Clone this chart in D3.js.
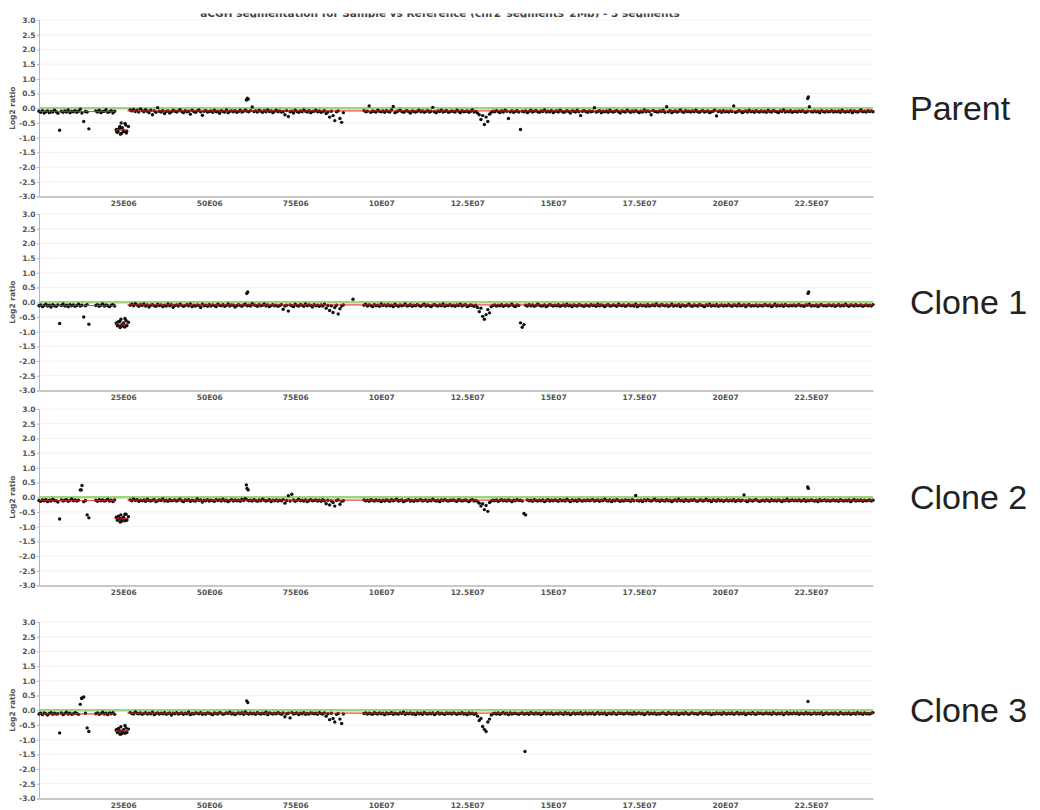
<!DOCTYPE html>
<html><head><meta charset="utf-8">
<script src="https://cdn.jsdelivr.net/npm/d3@7"></script>
<style>body{margin:0;background:#fff}svg{display:block}</style>
</head><body>
<script>
// ---------------- DATA ----------------
const panelNames = ["Parent", "Clone 1", "Clone 2", "Clone 3"];
const titleText = "aCGH segmentation for Sample vs Reference (chr2_segments_2Mb) - 3 segments";
// probe grid (Mb): first probe position and spacing
const probeStartMb = 0.5, probeStepMb = 0.5;

const parentLog2 = [
-.10,-.14,-.08,-.16,-.12,-.09,-.15,-.11,-.13,-.07,-.12,-.17,-.75,-.10,-.14,-.09,-.13,-.06,-.15,-.11,
-.12,-.08,-.14,-.10,-.03,-.16,-.45,-.11,-.13,-.70,null,null,null,-.09,-.13,-.07,-.15,-.11,-.10,-.05,
-.14,-.12,-.08,-.16,-.10,-.72,-.80,-.68,-.85,-.75,-.52,-.78,-.62,-.06,-.09,-.04,-.11,-.07,-.13,-.02,
-.08,-.12,-.05,-.10,-.15,-.07,-.22,-.09,-.14,.02,-.10,-.13,-.08,-.18,-.11,-.09,-.16,-.12,-.07,-.10,
-.13,-.09,-.05,-.11,-.15,-.08,-.12,-.10,-.20,-.07,-.11,-.14,-.09,-.06,-.12,-.24,-.10,-.08,-.13,-.11,
-.09,-.14,-.07,-.12,-.10,-.17,-.08,-.11,-.13,-.06,-.15,-.10,-.09,-.12,-.08,-.14,-.11,-.07,-.13,-.10,
-.06,-.10,-.12,-.08,.04,-.11,-.09,-.13,-.07,-.10,-.14,-.08,-.12,-.06,-.11,-.09,-.15,-.10,-.07,-.12,
-.09,-.13,-.11,-.22,-.08,-.28,-.12,-.10,-.16,-.07,-.11,-.14,-.09,-.12,-.06,-.10,-.13,-.08,-.15,-.11,
-.10,-.07,-.12,-.09,-.14,-.11,-.08,-.18,-.13,-.30,-.10,-.25,-.42,-.12,-.09,-.35,-.48,-.15,null,null,
null,null,null,null,null,null,null,null,null,-.08,-.12,-.10,.08,-.14,-.09,-.11,-.13,-.07,-.10,-.12,
-.09,-.14,-.08,-.11,-.13,-.06,.06,-.15,-.12,-.09,-.07,-.11,-.14,-.10,-.08,-.12,-.16,-.09,-.11,-.13,
-.10,-.07,-.12,-.09,-.14,-.11,-.08,-.13,-.10,.03,-.12,-.15,-.09,-.11,-.07,-.13,-.10,-.08,-.14,-.12,
-.09,-.11,-.13,-.07,-.10,-.15,-.08,-.12,-.11,-.09,-.14,-.10,-.06,-.13,-.11,-.16,-.22,-.38,-.25,-.55,
-.30,-.45,-.20,-.14,-.10,-.12,-.08,-.11,-.15,-.09,-.13,-.07,-.10,-.35,-.12,-.09,-.14,-.11,-.08,-.13,
-.72,-.10,-.12,-.09,-.15,-.11,-.07,-.13,-.10,-.08,-.12,-.14,-.09,-.11,-.06,-.13,-.10,-.12,-.08,-.15,
-.11,-.09,-.13,-.07,-.10,-.14,-.12,-.08,-.11,-.16,-.09,-.10,-.13,-.07,-.12,-.25,-.10,-.08,-.11,-.14,
-.09,-.12,-.10,.02,-.13,-.11,-.08,-.15,-.10,-.12,-.09,-.14,-.07,-.11,-.13,-.10,-.08,-.12,-.16,-.09,
-.11,-.13,-.07,-.10,-.14,-.09,-.12,-.08,-.11,-.15,-.10,-.13,-.06,-.12,-.09,-.11,-.22,-.08,-.10,-.12,
-.13,-.09,-.11,-.07,-.14,.05,-.12,-.08,-.15,-.11,-.09,-.13,-.10,-.06,-.12,-.14,-.08,-.11,-.10,-.13,
-.09,-.12,-.07,-.11,-.14,-.10,-.08,-.13,-.11,-.09,-.15,-.12,-.10,-.07,-.26,-.11,-.09,-.14,-.08,-.12,
-.10,-.13,-.09,-.11,.08,-.14,-.12,-.08,-.10,-.15,-.11,-.09,-.13,-.07,-.12,-.10,-.14,-.08,-.11,-.13,
-.09,-.12,-.10,-.14,-.07,-.11,-.13,-.08,-.10,-.12,-.15,-.09,-.11,-.06,-.13,-.10,-.12,-.08,-.14,-.11,
-.10,-.13,-.09,-.11,-.08,-.12,-.14,-.10,.05,-.11,-.13,-.09,-.12,-.10,-.15,-.08,-.11,-.13,-.09,-.12,
-.11,-.08,-.13,-.10,-.12,-.09,-.14,-.07,-.11,-.13,-.10,-.12,-.08,-.15,-.09,-.11,-.13,-.10,-.06,-.12,
-.10,-.13,-.08,-.11,-.09,-.12
];
const parentExtra = [
[23.0,-.76],[23.2,-.82],[23.7,-.70],[24.0,-.62],[24.2,-.88],[24.4,-.50],[24.7,-.66],[25.2,-.79],[25.7,-.57],[25.9,-.84],
[60.8,.28],[61.1,.34],[61.3,.31],[224.0,.33],[224.2,.38]
];
const parentSegments = [[0.5,22.8,-.11],[22.8,26.2,-.74],[26.2,243,-.09]];

const clone1Log2 = [
-.12,-.09,-.15,-.11,-.07,-.13,-.10,-.16,-.08,-.12,-.14,-.09,-.72,-.11,-.06,-.13,-.10,-.15,-.08,-.12,
-.09,-.14,-.11,-.07,-.13,-.10,-.50,-.12,-.08,-.75,null,null,null,-.11,-.08,-.14,-.10,-.06,-.13,-.09,
-.12,-.15,-.10,-.08,-.13,-.70,-.78,-.65,-.82,-.74,-.55,-.80,-.68,-.10,-.07,-.12,-.05,-.09,-.14,-.08,
-.11,-.06,-.13,-.09,-.16,-.10,-.08,-.12,-.14,-.07,-.11,-.09,-.15,-.10,-.13,-.06,-.12,-.08,-.17,-.11,
-.09,-.13,-.07,-.10,-.14,-.11,-.08,-.12,-.06,-.15,-.10,-.13,-.09,-.11,-.18,-.07,-.12,-.10,-.14,-.08,
-.13,-.09,-.11,-.15,-.07,-.10,-.12,-.08,-.14,-.11,-.06,-.13,-.09,-.10,-.16,-.12,-.08,-.11,-.14,-.09,
-.07,-.12,-.10,-.13,-.05,-.09,-.11,-.14,-.08,-.12,-.10,-.06,-.13,-.09,-.15,-.11,-.08,-.12,-.10,-.14,
-.11,-.08,-.24,-.13,-.10,-.30,-.09,-.12,-.15,-.07,-.11,-.13,-.08,-.10,-.14,-.06,-.12,-.09,-.11,-.16,
-.08,-.12,-.10,-.14,-.09,-.13,-.07,-.20,-.11,-.28,-.12,-.35,-.18,-.10,-.40,-.22,-.13,-.09,null,null,
null,null,null,null,null,null,null,null,null,-.10,-.07,-.13,-.09,-.11,-.15,-.08,-.12,-.10,-.14,-.06,
-.11,-.09,-.13,-.08,-.12,-.10,-.15,-.07,-.11,-.14,-.09,-.12,-.10,-.06,-.13,-.11,-.08,-.14,-.10,-.12,
-.08,-.11,-.14,-.10,-.07,-.13,-.09,-.12,-.15,-.10,-.08,-.11,-.13,-.09,-.12,-.06,-.14,-.10,-.11,-.08,
-.12,-.10,-.14,-.09,-.11,-.07,-.13,-.10,-.08,-.15,-.12,-.09,-.11,-.14,-.10,-.18,-.32,-.20,-.48,-.58,
-.42,-.25,-.36,-.15,-.11,-.09,-.13,-.10,-.12,-.08,-.14,-.11,-.09,-.13,-.10,-.07,-.12,-.15,-.09,-.11,
-.70,-.85,-.76,-.10,-.13,-.08,-.12,-.09,-.14,-.11,-.07,-.10,-.13,-.12,-.09,-.15,-.11,-.08,-.10,-.13,
-.10,-.12,-.08,-.14,-.11,-.09,-.13,-.07,-.12,-.10,-.15,-.09,-.11,-.13,-.08,-.10,-.12,-.14,-.09,-.11,
-.13,-.08,-.11,-.10,-.14,-.07,-.12,-.09,-.11,-.15,-.10,-.08,-.13,-.12,-.09,-.11,-.14,-.07,-.10,-.12,
-.09,-.14,-.11,-.08,-.12,-.10,-.13,-.07,-.15,-.11,-.09,-.12,-.10,-.14,-.08,-.13,-.11,-.09,-.12,-.06,
-.11,-.13,-.08,-.10,-.12,-.09,-.14,-.11,-.07,-.13,-.10,-.12,-.08,-.15,-.09,-.11,-.13,-.10,-.07,-.12,
-.14,-.09,-.11,-.13,-.08,-.10,-.12,-.15,-.09,-.11,-.07,-.13,-.10,-.12,-.08,-.14,-.11,-.09,-.13,-.10,
-.12,-.08,-.11,-.14,-.09,-.10,-.13,-.07,-.12,-.11,-.09,-.15,-.10,-.08,-.13,-.11,-.12,-.09,-.14,-.10,
-.11,-.13,-.08,-.10,-.12,-.09,-.15,-.11,-.07,-.13,-.10,-.12,-.09,-.14,-.08,-.11,-.13,-.10,-.12,-.09,
-.13,-.10,-.08,-.12,-.11,-.14,-.09,-.10,-.07,-.13,-.11,-.12,-.09,-.15,-.10,-.08,-.12,-.11,-.13,-.09,
-.10,-.12,-.09,-.14,-.11,-.08,-.13,-.10,-.12,-.07,-.11,-.14,-.09,-.10,-.13,-.08,-.12,-.11,-.09,-.14,
-.11,-.09,-.12,-.10,-.13,-.08
];
const clone1Extra = [
[23.0,-.72],[23.3,-.80],[23.6,-.66],[24.1,-.86],[24.3,-.58],[24.6,-.76],[25.1,-.70],[25.4,-.84],[25.8,-.62],[26.0,-.78],
[60.9,.30],[61.2,.35],[91.8,.10],[224.1,.30],[224.3,.35]
];
const clone1Segments = [[0.5,22.8,-.11],[22.8,26.2,-.74],[26.2,243,-.09]];

const clone2Log2 = [
-.11,-.14,-.09,-.12,-.08,-.15,-.10,-.13,-.07,-.11,-.12,-.16,-.74,-.09,-.13,-.10,-.08,-.14,-.11,-.06,
-.12,-.09,-.13,-.10,.25,.40,-.15,-.11,-.60,-.70,null,null,null,-.10,-.14,-.08,-.12,-.09,-.13,-.11,
-.07,-.13,-.10,-.15,-.09,-.68,-.76,-.72,-.82,-.70,-.58,-.78,-.66,-.09,-.12,-.06,-.11,-.08,-.14,-.10,
-.12,-.09,-.14,-.07,-.11,-.13,-.10,-.08,-.15,-.12,-.09,-.11,-.06,-.13,-.10,-.14,-.08,-.12,-.11,-.09,
-.13,-.10,-.07,-.12,-.15,-.09,-.11,-.08,-.14,-.10,-.12,-.13,-.06,-.11,-.09,-.16,-.10,-.12,-.08,-.13,
-.10,-.12,-.14,-.08,-.11,-.09,-.13,-.07,-.12,-.10,-.15,-.11,-.08,-.13,-.09,-.12,-.10,-.14,-.07,-.11,
-.05,-.09,-.12,-.10,-.13,-.08,-.11,-.14,-.09,-.12,-.07,-.10,-.13,-.11,-.08,-.15,-.10,-.12,-.09,-.13,
-.10,-.12,-.08,-.20,-.11,.05,-.13,.10,-.09,-.14,-.11,-.07,-.12,-.10,-.13,-.09,-.15,-.11,-.08,-.12,
-.11,-.09,-.13,-.10,-.14,-.08,-.12,-.22,-.10,-.26,-.13,-.18,-.30,-.11,-.09,-.24,-.14,-.12,null,null,
null,null,null,null,null,null,null,null,null,-.09,-.12,-.10,-.14,-.08,-.11,-.13,-.09,-.12,-.10,-.15,
-.10,-.13,-.09,-.11,-.14,-.08,-.12,-.10,-.07,-.13,-.11,-.09,-.15,-.12,-.10,-.08,-.13,-.11,-.14,-.09,
-.12,-.10,-.08,-.13,-.11,-.09,-.14,-.10,-.12,-.07,-.11,-.13,-.10,-.15,-.09,-.12,-.08,-.11,-.13,-.10,
-.11,-.09,-.12,-.14,-.08,-.10,-.13,-.11,-.09,-.12,-.15,-.10,-.08,-.13,-.11,-.14,-.20,-.30,-.22,-.42,
-.28,-.48,-.18,-.13,-.10,-.12,-.09,-.14,-.11,-.08,-.12,-.10,-.13,-.09,-.11,-.15,-.10,-.12,-.08,-.11,
-.10,-.13,-.55,-.60,-.09,-.12,-.10,-.14,-.08,-.11,-.13,-.10,-.12,-.09,-.15,-.11,-.08,-.13,-.10,-.12,
-.09,-.11,-.14,-.08,-.12,-.10,-.13,-.07,-.11,-.15,-.09,-.12,-.10,-.14,-.08,-.11,-.13,-.10,-.12,-.09,
-.12,-.10,-.08,-.13,-.11,-.09,-.14,-.10,-.12,-.07,-.11,-.13,-.09,-.15,-.10,-.12,-.08,-.11,-.14,-.10,
-.13,-.09,-.11,-.10,-.14,-.08,-.12,.06,-.11,-.13,-.10,-.15,-.09,-.12,-.08,-.11,-.13,-.10,-.07,-.12,
-.10,-.14,-.09,-.11,-.13,-.08,-.12,-.10,-.15,-.11,-.09,-.13,-.07,-.12,-.10,-.14,-.08,-.11,-.13,-.09,
-.11,-.08,-.12,-.14,-.10,-.09,-.13,-.11,-.07,-.12,-.10,-.15,-.09,-.11,-.13,-.08,-.12,-.10,-.14,-.11,
-.09,-.13,-.10,-.12,-.08,-.14,-.11,-.09,-.13,-.10,.08,-.12,-.15,-.09,-.11,-.13,-.10,-.08,-.12,-.14,
-.12,-.10,-.13,-.09,-.11,-.14,-.08,-.12,-.10,-.13,-.09,-.11,-.15,-.10,-.12,-.07,-.13,-.11,-.09,-.12,
-.10,-.12,-.09,-.13,-.11,-.08,-.14,-.10,-.12,-.09,-.11,-.13,-.10,-.15,-.08,-.12,-.11,-.09,-.13,-.10,
-.13,-.11,-.09,-.12,-.10,-.14,-.08,-.11,-.13,-.10,-.12,-.09,-.15,-.11,-.08,-.13,-.10,-.12,-.09,-.14,
-.10,-.12,-.11,-.09,-.13,-.10
];
const clone2Extra = [
[23.0,-.70],[23.3,-.78],[23.6,-.64],[24.1,-.84],[24.3,-.60],[24.6,-.74],[25.1,-.68],[25.4,-.80],[25.8,-.58],[26.0,-.76],
[12.8,.25],[60.8,.42],[61.0,.30],[61.3,.25],[224.0,.35],[224.2,.30]
];
const clone2Segments = [[0.5,22.8,-.11],[22.8,26.2,-.73],[26.2,243,-.10]];

const clone3Log2 = [
-.13,-.10,-.15,-.09,-.12,-.16,-.11,-.08,-.14,-.10,-.13,-.12,-.77,-.09,-.15,-.11,-.07,-.13,-.10,-.14,
-.12,-.08,-.11,-.14,.20,.42,.45,-.10,-.60,-.72,null,null,null,-.12,-.09,-.14,-.11,-.07,-.13,-.10,
-.15,-.09,-.12,-.08,-.14,-.66,-.74,-.70,-.80,-.68,-.52,-.76,-.64,-.08,-.11,-.13,-.06,-.10,-.12,-.09,
-.14,-.11,-.08,-.13,-.10,-.12,-.07,-.15,-.11,-.09,-.13,-.10,-.12,-.08,-.14,-.11,-.09,-.16,-.10,-.12,
-.08,-.13,-.11,-.09,-.14,-.10,-.12,-.07,-.15,-.11,-.13,-.09,-.10,-.12,-.08,-.14,-.11,-.13,-.09,-.10,
-.12,-.15,-.09,-.11,-.13,-.08,-.10,-.14,-.12,-.09,-.11,-.07,-.13,-.10,-.15,-.11,-.09,-.12,-.08,-.14,
-.06,-.11,-.13,-.09,-.12,-.10,-.14,-.08,-.11,-.13,-.10,-.12,-.07,-.15,-.09,-.11,-.13,-.10,-.12,-.08,
-.11,-.14,-.09,-.22,-.12,-.10,-.26,-.08,-.13,-.11,-.09,-.15,-.10,-.12,-.08,-.14,-.11,-.13,-.09,-.10,
-.12,-.10,-.14,-.08,-.11,-.13,-.09,-.20,-.12,-.32,-.10,-.28,-.40,-.14,-.11,-.30,-.45,-.13,null,null,
null,null,null,null,null,null,null,null,null,-.11,-.09,-.13,-.10,-.12,-.14,-.08,-.11,-.13,-.09,-.12,
-.10,-.15,-.09,-.12,-.11,-.08,-.14,-.10,-.12,-.13,-.09,-.11,-.07,-.14,-.10,-.12,-.09,-.13,-.11,-.15,
-.09,-.12,-.10,-.14,-.08,-.11,-.13,-.10,-.12,-.09,-.15,-.11,-.08,-.13,-.10,-.12,-.14,-.09,-.11,-.10,
-.13,-.09,-.11,-.14,-.10,-.12,-.08,-.13,-.11,-.15,-.09,-.12,-.10,-.14,-.11,-.20,-.35,-.28,-.55,-.65,
-.72,-.40,-.30,-.16,-.12,-.10,-.13,-.09,-.14,-.11,-.08,-.12,-.10,-.15,-.09,-.13,-.11,-.10,-.12,-.14,
-.11,-.09,-.13,-.12,-.10,-.14,-.08,-.11,-.13,-.09,-.12,-.10,-.15,-.11,-.08,-.13,-.10,-.12,-.09,-.14,
-.12,-.10,-.13,-.09,-.11,-.14,-.08,-.12,-.10,-.15,-.11,-.09,-.13,-.10,-.12,-.08,-.14,-.11,-.09,-.13,
-.10,-.12,-.09,-.14,-.11,-.08,-.13,-.10,-.12,-.09,-.15,-.11,-.10,-.13,-.08,-.12,-.14,-.09,-.11,-.10,
-.13,-.11,-.09,-.12,-.10,-.14,-.08,-.13,-.11,-.09,-.12,-.10,-.15,-.11,-.08,-.13,-.10,-.12,-.09,-.14,
-.11,-.13,-.10,-.09,-.12,-.14,-.08,-.11,-.13,-.10,-.12,-.09,-.15,-.11,-.10,-.13,-.08,-.12,-.14,-.10,
-.09,-.12,-.11,-.14,-.10,-.08,-.13,-.11,-.09,-.12,-.10,-.15,-.11,-.13,-.09,-.12,-.10,-.14,-.08,-.11,
-.13,-.10,-.12,-.09,-.14,-.11,-.08,-.13,-.10,-.12,-.09,-.15,-.11,-.10,-.13,-.08,-.12,-.14,-.09,-.11,
-.10,-.13,-.11,-.09,-.12,-.10,-.14,-.08,-.11,-.13,-.10,-.12,-.09,-.15,-.11,-.08,-.13,-.10,-.12,-.09,
-.12,-.09,-.14,-.10,-.11,-.13,-.08,-.12,-.10,-.14,-.11,-.09,-.13,-.10,-.12,-.08,-.15,-.11,-.09,-.13,
-.11,-.10,-.13,-.09,-.12,-.14,-.08,-.11,-.13,-.10,-.12,-.09,-.14,-.11,-.10,-.13,-.08,-.12,-.10,-.14,
-.09,-.12,-.11,-.13,-.10,-.08
];
const clone3Extra = [
[23.0,-.68],[23.3,-.76],[23.6,-.62],[24.1,-.82],[24.3,-.56],[24.6,-.72],[25.1,-.66],[25.4,-.78],[25.8,-.60],[26.0,-.74],
[12.9,.40],[60.9,.32],[61.2,.26],[141.8,-1.4],[224.1,.30]
];
const clone3Segments = [[0.5,22.8,-.12],[22.8,26.2,-.70],[26.2,243,-.10]];

const xTickValues = [25, 50, 75, 100, 125, 150, 175, 200, 225]; // Mb
const xTickLabels = ["25E06","50E06","75E06","10E07","12.5E07","15E07","17.5E07","20E07","22.5E07"];
const yTickValues = [3, 2.5, 2, 1.5, 1, 0.5, 0, -0.5, -1, -1.5, -2, -2.5, -3];
const yTickLabels = ["3.0","2.5","2.0","1.5","1.0","0.5","0.0","-0.5","-1.0","-1.5","-2.0","-2.5","-3.0"];

// ---------------- DRAW ----------------
const W = 1040, H = 810;
const svg = d3.select("body").append("svg").attr("width", W).attr("height", H);
const left = 39, right = 873, panelH = 176.5;
const panelTops = [20, 214, 409, 622];
const x = d3.scaleLinear().domain([0.5, 243]).range([left, right]);
const tickFont = "DejaVu Sans, Verdana, sans-serif";

const panels = [
  {values: parentLog2, extra: parentExtra, segs: parentSegments},
  {values: clone1Log2, extra: clone1Extra, segs: clone1Segments},
  {values: clone2Log2, extra: clone2Extra, segs: clone2Segments},
  {values: clone3Log2, extra: clone3Extra, segs: clone3Segments}
];

// title of the first panel: its upper part was cropped off in the source image
svg.append("clipPath").attr("id", "tclip").append("rect")
  .attr("x", 0).attr("y", 13.5).attr("width", W).attr("height", 4);
svg.append("text").attr("clip-path", "url(#tclip)")
  .attr("x", 440).attr("y", 16.5)
  .attr("text-anchor", "middle").attr("font-family", tickFont)
  .attr("font-weight", "bold").attr("font-size", 10.5).attr("fill", "#444")
  .text(titleText);

panels.forEach((p, k) => {
  const top = panelTops[k];
  const y = d3.scaleLinear().domain([-3, 3]).range([top + panelH, top]);
  const g = svg.append("g");

  // grid
  g.append("g").selectAll("line").data(yTickValues).join("line")
    .attr("x1", left).attr("x2", right)
    .attr("y1", d => y(d)).attr("y2", d => y(d))
    .attr("stroke", "#f1f1f1").attr("stroke-width", 1);

  // y axis
  const ya = g.append("g").attr("transform", `translate(${left},0)`)
    .call(d3.axisLeft(y).tickValues(yTickValues)
      .tickFormat((d, i) => yTickLabels[i]).tickSize(2).tickPadding(1.5));
  ya.select(".domain").attr("stroke", "#b5b5b5");
  ya.selectAll(".tick line").attr("stroke", "#b5b5b5");
  ya.selectAll("text").attr("font-family", tickFont).attr("font-weight", "bold")
    .attr("font-size", 7.5).attr("fill", "#555");

  // y label
  g.append("text")
    .attr("transform", `translate(15,${top + panelH / 2}) rotate(-90)`)
    .attr("text-anchor", "middle").attr("font-family", tickFont)
    .attr("font-weight", "bold").attr("font-size", 7.5).attr("fill", "#555")
    .text("Log2 ratio");

  // x axis
  const xa = g.append("g").attr("transform", `translate(0,${top + panelH})`)
    .call(d3.axisBottom(x).tickValues(xTickValues)
      .tickFormat((d, i) => xTickLabels[i]).tickSize(0).tickPadding(4));
  xa.select(".domain").attr("stroke", "#c8c8c8").attr("stroke-width", 2);
  xa.selectAll("text").attr("font-family", tickFont).attr("font-weight", "bold")
    .attr("font-size", 7.5).attr("fill", "#555");

  // zero line
  g.append("line").attr("x1", left).attr("x2", right)
    .attr("y1", y(0)).attr("y2", y(0))
    .attr("stroke", "#9fd47a").attr("stroke-width", 2.5);

  // points
  const pts = p.values.map((v, i) => ({mb: probeStartMb + i * probeStepMb, v}))
    .filter(d => d.v !== null)
    .concat(p.extra.map(d => ({mb: d[0], v: d[1]})));
  g.append("g").selectAll("circle").data(pts).join("circle")
    .attr("cx", d => x(d.mb)).attr("cy", d => y(d.v)).attr("r", 1.7)
    .attr("fill", "#111");

  // segments
  g.append("g").selectAll("line").data(p.segs).join("line")
    .attr("x1", d => x(d[0])).attr("x2", d => x(d[1]))
    .attr("y1", d => y(d[2])).attr("y2", d => y(d[2]))
    .attr("stroke", "#d22").attr("stroke-width", 1.2).attr("opacity", 0.8);

  // side label
  svg.append("text").attr("x", 910).attr("y", y(0) + 12)
    .attr("font-family", "Liberation Sans, Arial, sans-serif").attr("font-size", 34)
    .attr("fill", "#222").text(panelNames[k]);
});
</script>
</body></html>
